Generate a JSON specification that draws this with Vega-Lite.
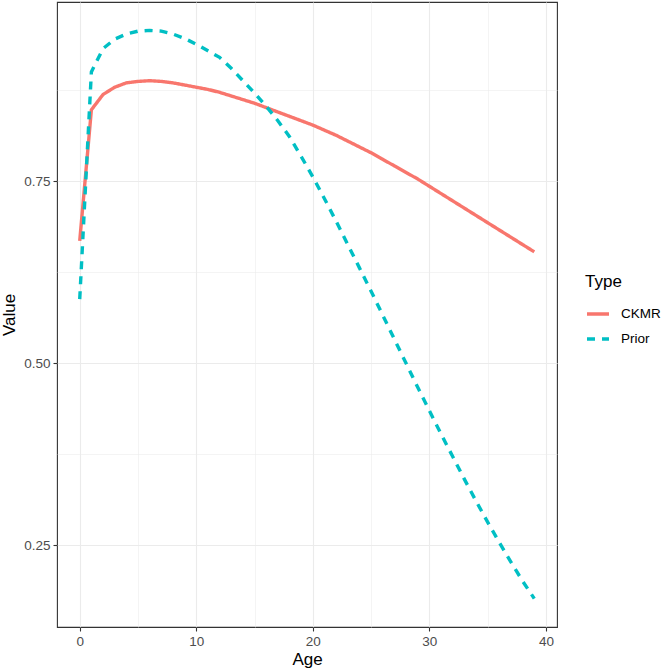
{
  "$schema": "https://vega.github.io/schema/vega-lite/v6.json",
  "width": 500,
  "height": 625,
  "autosize": {"type": "none"},
  "padding": {"left": 57, "top": 2, "right": 105, "bottom": 44},
  "background": "white",
  "config": {
    "font": "Liberation Sans",
    "view": {"stroke": "#333333", "strokeWidth": 1.1},
    "axis": {
      "domain": false,
      "gridColor": "#EBEBEB",
      "tickColor": "#333333",
      "tickSize": 4,
      "tickWidth": 1.1,
      "labelColor": "#4D4D4D",
      "labelFontSize": 13.5,
      "labelPadding": 3,
      "titleColor": "#000000",
      "titleFontSize": 17,
      "titleFontWeight": "normal"
    }
  },
  "data": {
    "values": [
      {"Type": "CKMR", "Age": 0, "Value": 0.668},
      {"Type": "CKMR", "Age": 1, "Value": 0.848},
      {"Type": "CKMR", "Age": 2, "Value": 0.869},
      {"Type": "CKMR", "Age": 3, "Value": 0.879},
      {"Type": "CKMR", "Age": 4, "Value": 0.885},
      {"Type": "CKMR", "Age": 5, "Value": 0.887},
      {"Type": "CKMR", "Age": 6, "Value": 0.888},
      {"Type": "CKMR", "Age": 7, "Value": 0.887},
      {"Type": "CKMR", "Age": 8, "Value": 0.885},
      {"Type": "CKMR", "Age": 9, "Value": 0.882},
      {"Type": "CKMR", "Age": 10, "Value": 0.879},
      {"Type": "CKMR", "Age": 11, "Value": 0.876},
      {"Type": "CKMR", "Age": 12, "Value": 0.872},
      {"Type": "CKMR", "Age": 13, "Value": 0.867},
      {"Type": "CKMR", "Age": 14, "Value": 0.862},
      {"Type": "CKMR", "Age": 15, "Value": 0.857},
      {"Type": "CKMR", "Age": 16, "Value": 0.851},
      {"Type": "CKMR", "Age": 17, "Value": 0.845},
      {"Type": "CKMR", "Age": 18, "Value": 0.839},
      {"Type": "CKMR", "Age": 19, "Value": 0.833},
      {"Type": "CKMR", "Age": 20, "Value": 0.827},
      {"Type": "CKMR", "Age": 21, "Value": 0.820},
      {"Type": "CKMR", "Age": 22, "Value": 0.813},
      {"Type": "CKMR", "Age": 23, "Value": 0.805},
      {"Type": "CKMR", "Age": 24, "Value": 0.797},
      {"Type": "CKMR", "Age": 25, "Value": 0.789},
      {"Type": "CKMR", "Age": 26, "Value": 0.780},
      {"Type": "CKMR", "Age": 27, "Value": 0.771},
      {"Type": "CKMR", "Age": 28, "Value": 0.762},
      {"Type": "CKMR", "Age": 29, "Value": 0.753},
      {"Type": "CKMR", "Age": 30, "Value": 0.743},
      {"Type": "CKMR", "Age": 31, "Value": 0.733},
      {"Type": "CKMR", "Age": 32, "Value": 0.723},
      {"Type": "CKMR", "Age": 33, "Value": 0.713},
      {"Type": "CKMR", "Age": 34, "Value": 0.703},
      {"Type": "CKMR", "Age": 35, "Value": 0.693},
      {"Type": "CKMR", "Age": 36, "Value": 0.683},
      {"Type": "CKMR", "Age": 37, "Value": 0.673},
      {"Type": "CKMR", "Age": 38, "Value": 0.663},
      {"Type": "CKMR", "Age": 39, "Value": 0.653},
      {"Type": "Prior", "Age": 0, "Value": 0.588},
      {"Type": "Prior", "Age": 1, "Value": 0.900},
      {"Type": "Prior", "Age": 2, "Value": 0.932},
      {"Type": "Prior", "Age": 3, "Value": 0.945},
      {"Type": "Prior", "Age": 4, "Value": 0.952},
      {"Type": "Prior", "Age": 5, "Value": 0.956},
      {"Type": "Prior", "Age": 6, "Value": 0.957},
      {"Type": "Prior", "Age": 7, "Value": 0.956},
      {"Type": "Prior", "Age": 8, "Value": 0.952},
      {"Type": "Prior", "Age": 9, "Value": 0.946},
      {"Type": "Prior", "Age": 10, "Value": 0.938},
      {"Type": "Prior", "Age": 11, "Value": 0.929},
      {"Type": "Prior", "Age": 12, "Value": 0.920},
      {"Type": "Prior", "Age": 13, "Value": 0.905},
      {"Type": "Prior", "Age": 14, "Value": 0.888},
      {"Type": "Prior", "Age": 15, "Value": 0.871},
      {"Type": "Prior", "Age": 16, "Value": 0.853},
      {"Type": "Prior", "Age": 17, "Value": 0.833},
      {"Type": "Prior", "Age": 18, "Value": 0.811},
      {"Type": "Prior", "Age": 19, "Value": 0.784},
      {"Type": "Prior", "Age": 20, "Value": 0.756},
      {"Type": "Prior", "Age": 21, "Value": 0.726},
      {"Type": "Prior", "Age": 22, "Value": 0.695},
      {"Type": "Prior", "Age": 23, "Value": 0.663},
      {"Type": "Prior", "Age": 24, "Value": 0.631},
      {"Type": "Prior", "Age": 25, "Value": 0.599},
      {"Type": "Prior", "Age": 26, "Value": 0.566},
      {"Type": "Prior", "Age": 27, "Value": 0.533},
      {"Type": "Prior", "Age": 28, "Value": 0.500},
      {"Type": "Prior", "Age": 29, "Value": 0.467},
      {"Type": "Prior", "Age": 30, "Value": 0.435},
      {"Type": "Prior", "Age": 31, "Value": 0.403},
      {"Type": "Prior", "Age": 32, "Value": 0.372},
      {"Type": "Prior", "Age": 33, "Value": 0.341},
      {"Type": "Prior", "Age": 34, "Value": 0.311},
      {"Type": "Prior", "Age": 35, "Value": 0.282},
      {"Type": "Prior", "Age": 36, "Value": 0.254},
      {"Type": "Prior", "Age": 37, "Value": 0.227},
      {"Type": "Prior", "Age": 38, "Value": 0.201},
      {"Type": "Prior", "Age": 39, "Value": 0.177}
    ]
  },
  "mark": {"type": "line", "strokeWidth": 3.4, "clip": true},
  "encoding": {
    "x": {
      "field": "Age",
      "type": "quantitative",
      "scale": {"domain": [-1.95, 40.95], "nice": false, "zero": false},
      "axis": {
        "title": "Age",
        "values": [0, 5, 10, 15, 20, 25, 30, 35, 40],
        "labelExpr": "datum.value % 10 === 0 ? datum.label : ''",
        "tickOpacity": {"condition": {"test": "datum.value % 10 === 0", "value": 1}, "value": 0},
        "gridWidth": {"condition": {"test": "datum.value % 10 === 0", "value": 1.1}, "value": 0.55},
        "titlePadding": 4
      }
    },
    "y": {
      "field": "Value",
      "type": "quantitative",
      "scale": {"domain": [0.138, 0.996], "nice": false, "zero": false},
      "axis": {
        "title": "Value",
        "values": [0.25, 0.375, 0.5, 0.625, 0.75, 0.875],
        "format": ".2f",
        "labelExpr": "abs(datum.value * 4 - round(datum.value * 4)) < 0.001 ? datum.label : ''",
        "tickOpacity": {"condition": {"test": "abs(datum.value * 4 - round(datum.value * 4)) < 0.001", "value": 1}, "value": 0},
        "gridWidth": {"condition": {"test": "abs(datum.value * 4 - round(datum.value * 4)) < 0.001", "value": 1.1}, "value": 0.55},
        "titlePadding": 5
      }
    },
    "color": {
      "field": "Type",
      "type": "nominal",
      "scale": {"domain": ["CKMR", "Prior"], "range": ["#F8766D", "#00BFC4"]},
      "legend": {
        "orient": "none",
        "legendX": 528,
        "legendY": 272,
        "title": "Type",
        "titleFontSize": 17,
        "titleFontWeight": "normal",
        "titleColor": "#000000",
        "titlePadding": 10,
        "labelFontSize": 13.5,
        "labelColor": "#000000",
        "symbolType": "stroke",
        "symbolSize": 484,
        "symbolStrokeWidth": 3.4,
        "rowPadding": 5,
        "labelOffset": 10
      }
    },
    "strokeDash": {
      "field": "Type",
      "type": "nominal",
      "scale": {"domain": ["CKMR", "Prior"], "range": [[1, 0], [8, 7]]},
      "legend": {
        "orient": "none",
        "legendX": 528,
        "legendY": 272,
        "title": "Type",
        "titleFontSize": 17,
        "titleFontWeight": "normal",
        "titleColor": "#000000",
        "titlePadding": 10,
        "labelFontSize": 13.5,
        "labelColor": "#000000",
        "symbolType": "stroke",
        "symbolSize": 484,
        "symbolStrokeWidth": 3.4,
        "rowPadding": 5,
        "labelOffset": 10
      }
    }
  }
}
